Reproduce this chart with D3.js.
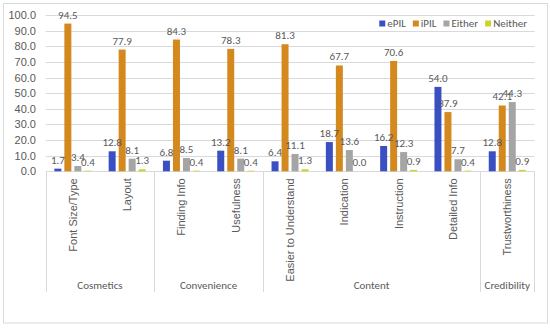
<!DOCTYPE html>
<html><head><meta charset="utf-8">
<script src="https://cdn.jsdelivr.net/npm/d3@7"></script>
<style>
html,body{margin:0;padding:0;background:#fff;}
svg{display:block;font-family:Carlito,Calibri,"Liberation Sans",sans-serif;}
</style></head>
<body>
<svg id="c" width="550" height="328"></svg>
<script>
const categories = ["Font Size/Type","Layout","Finding Info","Usefulness","Easier to Understand","Indication","Instruction","Detailed Info","Trustworthiness"];
const groups = [
  {name:"Cosmetics", from:0, to:1},
  {name:"Convenience", from:2, to:3},
  {name:"Content", from:4, to:7},
  {name:"Credibility", from:8, to:8}
];
const seriesNames = ["ePIL","iPIL","Either","Neither"];
const ePIL    = [1.7, 12.8, 6.8, 13.2, 6.4, 18.7, 16.2, 54.0, 12.8];
const iPIL    = [94.5, 77.9, 84.3, 78.3, 81.3, 67.7, 70.6, 37.9, 42.1];
const Either  = [3.4, 8.1, 8.5, 8.1, 11.1, 13.6, 12.3, 7.7, 44.3];
const Neither = [0.4, 1.3, 0.4, 0.4, 1.3, 0.0, 0.9, 0.4, 0.9];
const yTicks = [0,10,20,30,40,50,60,70,80,90,100];
const colors = ["#3A50C2","#D4891F","#A5A5A5","#CCD42A"];

const seriesData = [ePIL, iPIL, Either, Neither];
const svg = d3.select("#c");
const FS = 10;
const txt = "#595959";
const gridC = "#D9D9D9";

// chart border
svg.append("rect").attr("x",3.5).attr("y",3.5).attr("width",544).attr("height",319.5)
  .attr("fill","#fff").attr("stroke",gridC).attr("stroke-width",1);

const left = 45.7, right = 534.4, y0 = 171.3, yTop = 15;
const y = d3.scaleLinear().domain([0,100]).range([y0, yTop]);
const x0 = d3.scaleBand().domain(categories).range([left, right]).padding(0);
const x1 = d3.scaleBand().domain(seriesNames).range([7.15, x0.bandwidth()-7.15]).paddingInner(0.3).paddingOuter(0.15);

// gridlines
svg.append("g").selectAll("line").data(yTicks).join("line")
  .attr("x1",left).attr("x2",right).attr("y1",d=>Math.round(y(d))+0.5).attr("y2",d=>Math.round(y(d))+0.5)
  .attr("stroke",gridC).attr("stroke-width",1);

// y axis labels
const ya = svg.append("g").attr("transform","translate(36,0)")
  .call(d3.axisLeft(y).tickValues(yTicks).tickFormat(d3.format(".1f")).tickSize(0).tickPadding(0));
ya.select(".domain").remove();
ya.selectAll("text").attr("fill",txt).attr("font-size",FS+1).attr("font-family",null);

// bars
const bars = svg.append("g");
categories.forEach((c,i)=>{
  seriesNames.forEach((s,j)=>{
    const v = seriesData[j][i];
    const bx = x0(c)+x1(s);
    bars.append("rect").attr("x",bx).attr("width",x1.bandwidth())
      .attr("y",y(v)).attr("height",y0-y(v)).attr("fill",colors[j]);
  });
});
// labels
const lab = svg.append("g");
categories.forEach((c,i)=>{
  seriesNames.forEach((s,j)=>{
    const v = seriesData[j][i];
    const cx = x0(c)+x1(s)+x1.bandwidth()/2;
    lab.append("text").attr("x",cx).attr("y",y(v)-5).attr("text-anchor","middle")
      .attr("font-size",FS+1).attr("fill",txt).text(d3.format(".1f")(v));
  });
});

// category axis labels (rotated)
const xa = svg.append("g").attr("transform",`translate(0,${y0})`)
  .call(d3.axisBottom(x0).tickSize(0).tickPadding(0));
xa.select(".domain").remove();
xa.selectAll("text").attr("fill",txt).attr("font-size",FS+1).attr("font-family",null)
  .attr("text-anchor","end").attr("dy",null)
  .attr("transform","translate(0,7) rotate(-90)")
  .attr("x",0).attr("y",0).attr("dominant-baseline","central");

// group separators
const seps = [0,2,4,8,9].map(k => k<categories.length ? x0(categories[k]) : right);
svg.append("g").selectAll("line").data(seps).join("line")
  .attr("x1",d=>Math.round(d)+0.5).attr("x2",d=>Math.round(d)+0.5)
  .attr("y1",y0).attr("y2",292).attr("stroke",gridC).attr("stroke-width",1);

// group labels
svg.append("g").selectAll("text").data(groups).join("text")
  .attr("x",g=>(x0(categories[g.from]) + x0(categories[g.to]) + x0.bandwidth())/2)
  .attr("y",289).attr("text-anchor","middle").attr("font-size",FS+1).attr("fill",txt)
  .text(g=>g.name);

// legend (right aligned)
const lg = svg.append("g");
const items = seriesNames.map((s,j)=>{
  const g = lg.append("g");
  g.append("rect").attr("width",6).attr("height",6).attr("y",-3).attr("fill",colors[j]);
  const t = g.append("text").attr("x",8).attr("y",0).attr("dominant-baseline","central")
    .attr("font-size",FS+1).attr("fill",txt).text(s);
  return {g, w: 8 + t.node().getComputedTextLength()};
});
let total = items.reduce((a,b)=>a+b.w,0) + 7*(items.length-1);
let cx = 527 - total;
items.forEach(it=>{ it.g.attr("transform",`translate(${cx},23.5)`); cx += it.w + 7; });
</script>
</body></html>
